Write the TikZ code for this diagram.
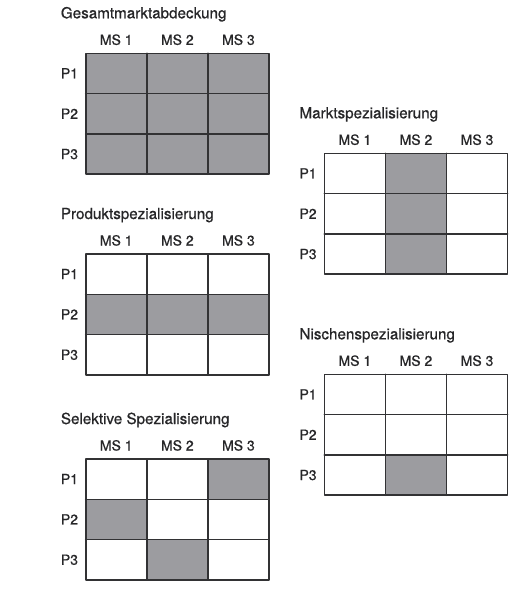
\documentclass[tikz,border=0pt]{standalone}
\usepackage{fontspec}
\setmainfont{TeX Gyre Heros}
\newfontfamily\schriftart{TeX Gyre Heros}[FakeBold=0.7]
\definecolor{feld}{RGB}{156,156,160}
\definecolor{linie}{RGB}{50,50,52}
\definecolor{schrift}{RGB}{38,38,40}
\begin{document}
\begin{tikzpicture}[x=1pt,y=-1pt, line join=round, line cap=round,
	titel/.style={anchor=base west, inner sep=0, text=schrift, font=\schriftart\fontsize{15.2}{18}\selectfont},
	kopf/.style={anchor=base, inner sep=0, text=schrift, font=\schriftart\fontsize{14}{16}\selectfont},
	zeile/.style={anchor=base west, inner sep=0, text=schrift, font=\schriftart\fontsize{14}{16}\selectfont}]
	\useasboundingbox[fill=white] (0,0) rectangle (528,600);
	\foreach \gx/\gy/\name/\titeltext/\voll in {
		85.7/53.3/ga/Gesamtmarktabdeckung/{1/1,2/1,3/1,1/2,2/2,3/2,1/3,2/3,3/3},
		85.7/254/ps/Produktspezialisierung/{1/2,2/2,3/2},
		85.7/459/ss/Selektive Spezialisierung/{3/1,1/2,2/3},
		324.3/153.3/ms/Marktspezialisierung/{2/1,2/2,2/3},
		324.3/374.3/ns/Nischenspezialisierung/{2/3}}{
		\begin{scope}[shift={(\gx,\gy)}]
			\node[titel] (\name-titel) at (-25,-35) {\titeltext};
			\foreach \c in {1,2,3}{
				\node[kopf] (\name-ms\c) at ({(\c-0.5)*61.1},-8.5) {MS \c};
			}
			\foreach \r in {1,2,3}{
				\node[zeile] (\name-p\r) at (-25,{(\r-0.5)*40.3+5}) {P\r};
			}
			\foreach \c/\r in \voll{
				\fill[feld] ({(\c-1)*61.1},{(\r-1)*40.3}) rectangle ++(61.1,40.3);
			}
			\draw[color=linie,line width=1.6pt] (0,0) rectangle (183.3,120.9);
			\foreach \i in {1,2}{
				\draw[color=linie,line width=1.6pt] (\i*61.1,0)--(\i*61.1,120.9);
				\draw[color=linie,line width=1.6pt] (0,\i*40.3)--(183.3,\i*40.3);
			}
		\end{scope}
	}
\end{tikzpicture}
\end{document}
